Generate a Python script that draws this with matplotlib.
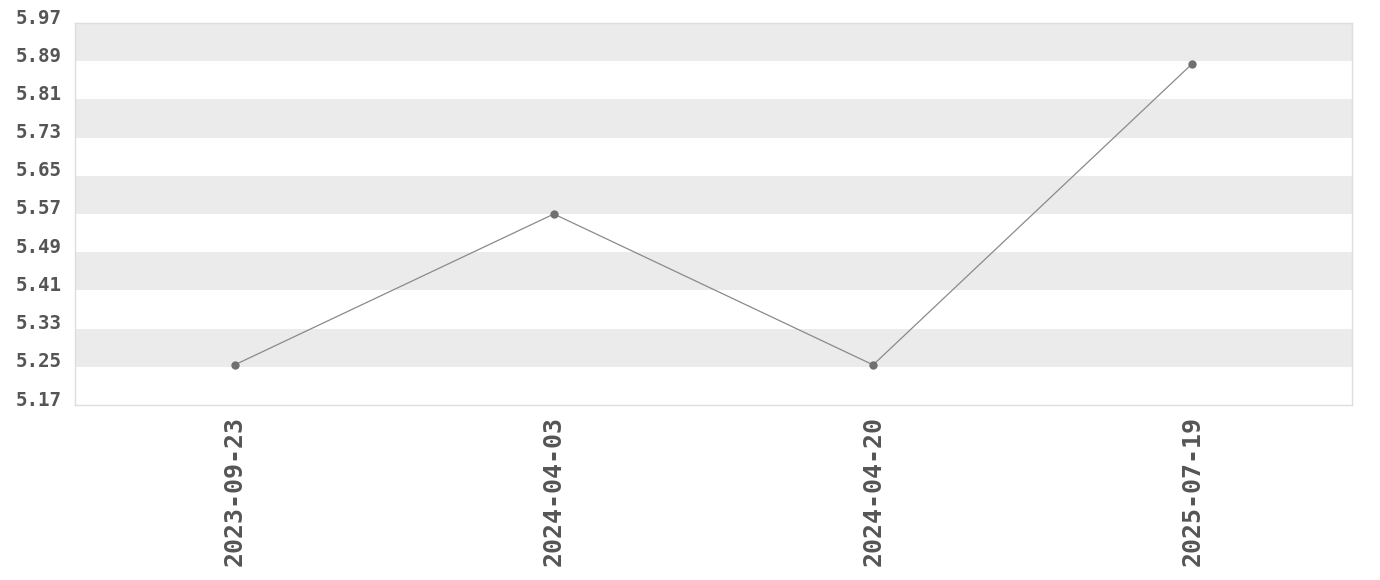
import matplotlib
matplotlib.use("Agg")
import matplotlib.pyplot as plt
import matplotlib.transforms as mtransforms

dates = ["2023-09-23", "2024-04-03", "2024-04-20", "2025-07-19"]
values = [5.254, 5.57, 5.254, 5.885]
y_ticks = [5.17, 5.25, 5.33, 5.41, 5.49, 5.57, 5.65, 5.73, 5.81, 5.89, 5.97]

fig = plt.figure(figsize=(13.8, 5.8), dpi=100)
ax = fig.add_axes([75/1380, 1-405/580, (1352-75)/1380, (405-23)/580])

# alternating bands
for i in range(len(y_ticks)-1):
    if (len(y_ticks)-2-i) % 2 == 0:
        ax.axhspan(y_ticks[i], y_ticks[i+1], color="#ebebeb", lw=0, zorder=0)

x = list(range(len(dates)))
ax.plot(x, values, color="#8a8a8a", lw=0.9, zorder=2)
ax.plot(x, values, 'o', color="#707070", ms=6, mec="none", zorder=3)

ax.set_xlim(-0.5, len(dates)-0.5)
ax.set_ylim(y_ticks[0], y_ticks[-1])
ax.set_yticks(y_ticks)
ax.set_yticklabels([f"{v:.2f}" for v in y_ticks])
ax.set_xticks(x)
ax.set_xticklabels(dates, rotation=90)

for sp in ax.spines.values():
    sp.set_color("#dddddd")
    sp.set_linewidth(1)

ax.tick_params(axis="both", length=0)
ax.tick_params(axis="y", pad=9.5)
ax.tick_params(axis="x", pad=8)
for lab in ax.get_yticklabels():
    lab.set_fontfamily("DejaVu Sans Mono")
    lab.set_fontweight("bold")
    lab.set_fontsize(13.8)
    lab.set_color("#555555")
    lab.set_transform(lab.get_transform() + mtransforms.ScaledTranslation(0, 7/100, fig.dpi_scale_trans))
for lab in ax.get_xticklabels():
    lab.set_fontfamily("DejaVu Sans Mono")
    lab.set_fontweight("bold")
    lab.set_fontsize(18)
    lab.set_color("#555555")

fig.savefig("out.png", dpi=100, facecolor="white")
